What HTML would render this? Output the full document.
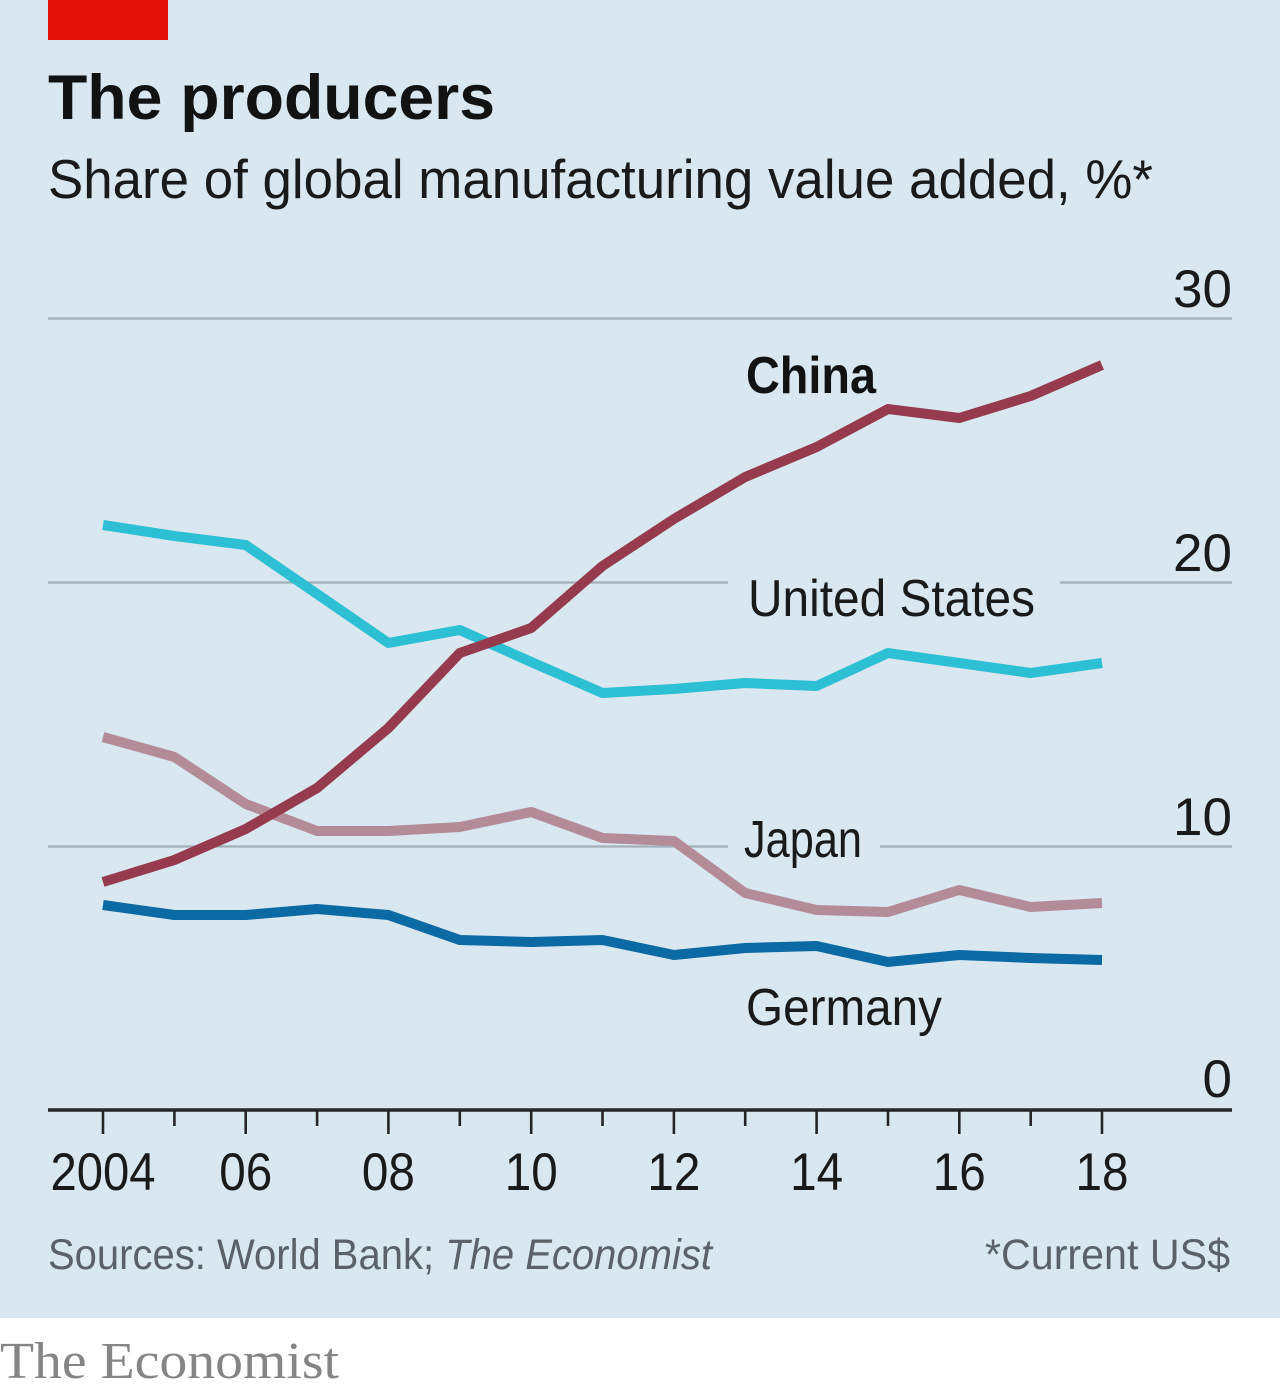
<!DOCTYPE html>
<html>
<head>
<meta charset="utf-8">
<style>
  html,body{margin:0;padding:0;background:#ffffff;}
  svg{display:block;}
  text{font-family:"Liberation Sans", sans-serif;}
</style>
</head>
<body>
<svg width="1280" height="1394" viewBox="0 0 1280 1394" xmlns="http://www.w3.org/2000/svg">
  <rect x="0" y="0" width="1280" height="1318" fill="#d8e7f0"/>
  <rect x="48" y="0" width="120" height="40" fill="#e3120b"/>

  <text x="48" y="119" font-size="63" font-weight="bold" fill="#121212" textLength="447" lengthAdjust="spacingAndGlyphs">The producers</text>
  <text x="48" y="198" font-size="55" fill="#1a1a1a" textLength="1105" lengthAdjust="spacingAndGlyphs">Share of global manufacturing value added, %*</text>

  <!-- gridlines -->
  <g stroke="#a3b0b8" stroke-width="2.2" fill="none">
    <line x1="48" y1="318.5" x2="1232" y2="318.5"/>
    <line x1="48" y1="582.5" x2="728" y2="582.5"/>
    <line x1="1060" y1="582.5" x2="1232" y2="582.5"/>
    <line x1="48" y1="846.5" x2="728" y2="846.5"/>
    <line x1="880" y1="846.5" x2="1232" y2="846.5"/>
  </g>

  <!-- y labels -->
  <g font-size="53" fill="#1a1a1a" text-anchor="end">
    <text x="1232" y="307">30</text>
    <text x="1232" y="571">20</text>
    <text x="1232" y="835">10</text>
    <text x="1232" y="1097">0</text>
  </g>

  <!-- series -->
  <g fill="none" stroke-width="10" stroke-linejoin="round" stroke-linecap="butt">
    <polyline stroke="#b48c98" points="103,737 174.4,757 245.7,804 317.1,831 388.4,831 459.8,827 531.2,812 602.5,838 673.9,841 745.2,893 816.6,910 888,912 959.3,890 1030.7,907 1102,903"/>
    <polyline stroke="#0b69a3" points="103,905 174.4,915 245.7,915 317.1,909 388.4,915 459.8,940 531.2,942 602.5,940 673.9,955 745.2,948 816.6,946 888,962 959.3,955 1030.7,958 1102,960"/>
    <polyline stroke="#2dbfd3" points="103,525 174.4,536 245.7,545 317.1,594 388.4,643 459.8,630 531.2,662 602.5,693 673.9,689 745.2,683 816.6,686 888,653 959.3,663 1030.7,673 1102,663"/>
    <polyline stroke="#963a4d" points="103,882 174.4,860 245.7,829 317.1,788 388.4,728 459.8,653 531.2,628 602.5,566 673.9,519 745.2,477 816.6,447 888,409 959.3,418 1030.7,396 1102,365"/>
  </g>

  <!-- series labels -->
  <text x="746" y="393" font-size="52" font-weight="bold" fill="#121212" textLength="130" lengthAdjust="spacingAndGlyphs">China</text>
  <text x="748" y="616" font-size="52" fill="#1a1a1a" textLength="287" lengthAdjust="spacingAndGlyphs">United States</text>
  <text x="744" y="857" font-size="52" fill="#1a1a1a" textLength="118" lengthAdjust="spacingAndGlyphs">Japan</text>
  <text x="746" y="1025" font-size="52" fill="#1a1a1a" textLength="196" lengthAdjust="spacingAndGlyphs">Germany</text>

  <!-- x axis -->
  <line x1="48" y1="1110" x2="1232" y2="1110" stroke="#262626" stroke-width="3.5"/>
  <g stroke="#262626" stroke-width="2.6">
    <line x1="103" y1="1110" x2="103" y2="1134"/>
    <line x1="174.4" y1="1110" x2="174.4" y2="1126"/>
    <line x1="245.7" y1="1110" x2="245.7" y2="1134"/>
    <line x1="317.1" y1="1110" x2="317.1" y2="1126"/>
    <line x1="388.4" y1="1110" x2="388.4" y2="1134"/>
    <line x1="459.8" y1="1110" x2="459.8" y2="1126"/>
    <line x1="531.2" y1="1110" x2="531.2" y2="1134"/>
    <line x1="602.5" y1="1110" x2="602.5" y2="1126"/>
    <line x1="673.9" y1="1110" x2="673.9" y2="1134"/>
    <line x1="745.2" y1="1110" x2="745.2" y2="1126"/>
    <line x1="816.6" y1="1110" x2="816.6" y2="1134"/>
    <line x1="888" y1="1110" x2="888" y2="1126"/>
    <line x1="959.3" y1="1110" x2="959.3" y2="1134"/>
    <line x1="1030.7" y1="1110" x2="1030.7" y2="1126"/>
    <line x1="1102" y1="1110" x2="1102" y2="1134"/>
  </g>
  <g font-size="53" fill="#1a1a1a" text-anchor="middle">
    <text x="103" y="1190" textLength="105" lengthAdjust="spacingAndGlyphs">2004</text>
    <text x="245.7" y="1190" textLength="53" lengthAdjust="spacingAndGlyphs">06</text>
    <text x="388.4" y="1190" textLength="53" lengthAdjust="spacingAndGlyphs">08</text>
    <text x="531.2" y="1190" textLength="53" lengthAdjust="spacingAndGlyphs">10</text>
    <text x="673.9" y="1190" textLength="53" lengthAdjust="spacingAndGlyphs">12</text>
    <text x="816.6" y="1190" textLength="53" lengthAdjust="spacingAndGlyphs">14</text>
    <text x="959.3" y="1190" textLength="53" lengthAdjust="spacingAndGlyphs">16</text>
    <text x="1102" y="1190" textLength="53" lengthAdjust="spacingAndGlyphs">18</text>
  </g>

  <!-- footnotes -->
  <text x="48" y="1269" font-size="43" fill="#5a6168" textLength="664" lengthAdjust="spacingAndGlyphs">Sources: World Bank; <tspan font-style="italic">The Economist</tspan></text>
  <text x="985" y="1269" font-size="43" fill="#5a6168" textLength="245" lengthAdjust="spacingAndGlyphs">*Current US$</text>

  <text x="0" y="1378" font-size="52" fill="#858585" style="font-family:'Liberation Serif', serif" textLength="339" lengthAdjust="spacingAndGlyphs">The Economist</text>
</svg>
</body>
</html>
